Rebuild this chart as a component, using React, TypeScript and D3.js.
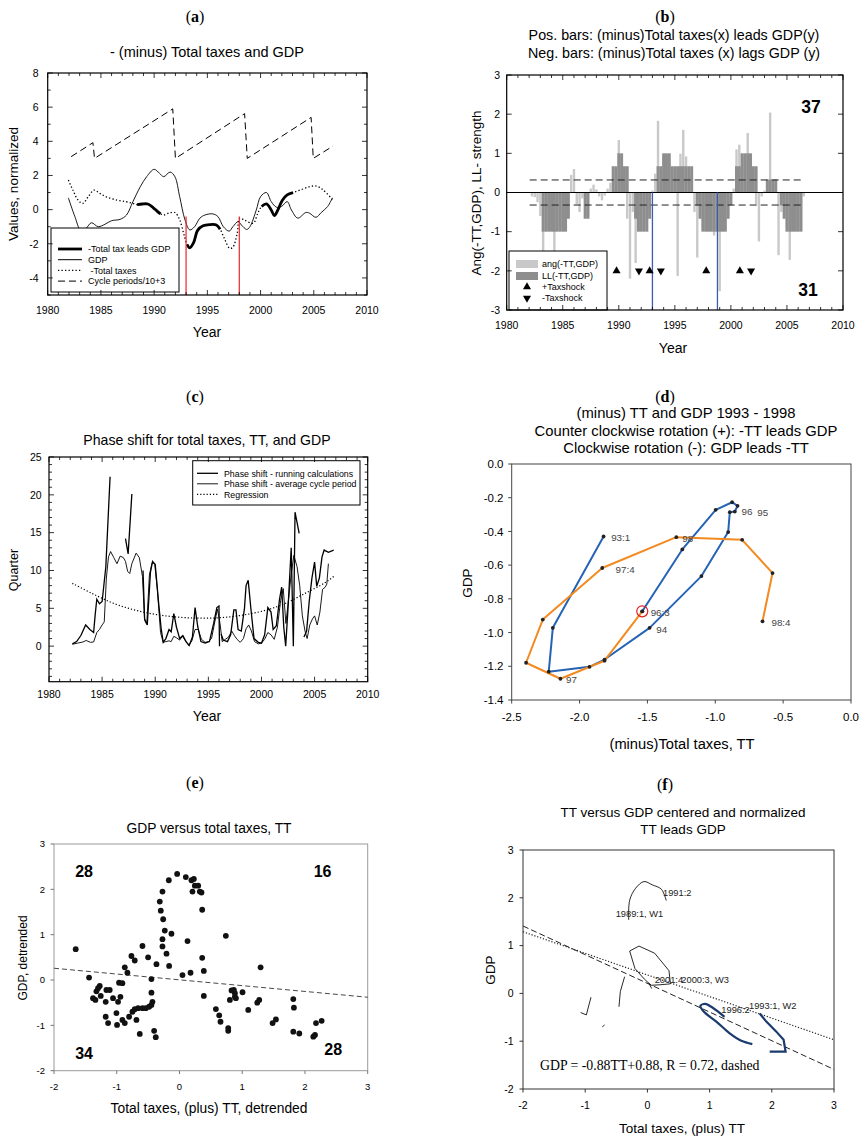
import React from 'react'
import * as d3 from 'd3'

const SANS = "'Liberation Sans', Arial, sans-serif"
const SERIF = "'Liberation Serif', 'Times New Roman', serif"
const YEAR_TICKS = [1980, 1985, 1990, 1995, 2000, 2005, 2010]

// ---------- (a) minus total taxes and GDP ----------
const aGdpYears = [1981.94, 1982.56, 1983.1, 1983.6, 1984.1, 1984.75, 1985.4, 1986.0, 1986.8, 1987.4, 1988.0, 1988.7, 1989.3, 1990.0, 1990.5, 1990.9, 1991.5, 1991.95, 1992.4, 1992.9, 1993.35, 1993.8, 1994.3, 1994.8, 1995.5, 1996.0, 1996.5, 1997.05, 1997.4, 1997.9, 1998.2, 1998.7, 1999.0, 1999.6, 2000.0, 2000.55, 2001.0, 2001.5, 2001.96, 2002.5, 2002.9, 2003.5, 2004.25, 2004.6, 2005.2, 2005.7, 2006.3, 2006.75]
const aGdpValues = [0.69, -0.42, -1.2, -1.1, -0.77, -1.0, -0.85, -0.65, -0.57, -0.32, 0.46, 1.34, 1.93, 2.36, 2.13, 1.93, 2.2, 1.93, 0.76, -0.6, -1.19, -1.0, -0.5, -0.31, -0.25, -0.41, -1.0, -1.26, -1.0, -0.7, -0.9, -1.16, -1.0, -0.02, 0.76, 1.0, 0.47, 0.14, 0.18, 0.47, -0.02, -0.5, -0.17, -0.21, -0.45, -0.17, 0.18, 0.69]
const aTaxYears = [1981.94, 1982.4, 1982.8, 1983.3, 1983.8, 1984.35, 1984.9, 1985.5, 1986.5, 1987.4, 1988.0, 1988.4, 1988.9, 1989.4, 1989.9, 1990.3, 1990.6, 1990.9, 1991.4, 1991.95, 1992.4, 1992.8, 1993.1, 1993.35, 1993.7, 1994.1, 1994.6, 1995.2, 1995.85, 1996.2, 1996.6, 1997.1, 1997.4, 1997.8, 1998.05, 1998.5, 1999.3, 1999.75, 2000.1, 2000.55, 2001.0, 2001.3, 2001.6, 2002.05, 2002.5, 2003.05, 2003.7, 2004.6, 2005.25, 2005.9, 2006.75]
const aTaxValues = [1.73, 1.1, 0.6, 0.36, 0.75, 1.14, 0.95, 0.75, 0.56, 0.46, 0.36, 0.29, 0.33, 0.33, 0.12, -0.1, -0.25, -0.32, -0.2, -0.17, -0.6, -1.45, -2.05, -2.24, -1.95, -1.2, -0.95, -0.88, -0.9, -1.15, -1.69, -2.27, -2.2, -1.4, -0.5, -0.62, -0.8, -0.2, 0.18, 0.33, -0.02, -0.35, -0.05, 0.55, 0.86, 1.0, 1.14, 1.34, 1.38, 1.14, 0.6]
const aCycleYears = [1982.2, 1984.25, 1984.4, 1991.75, 1992.0, 1998.5, 1998.75, 2004.75, 2004.95, 2006.8]
const aCycleValues = [3.1, 3.92, 3.0, 5.9, 3.0, 5.62, 3.0, 5.4, 3.0, 3.72]
const aLeadPeriods = [[1988.3, 1990.7], [1993.0, 1996.3], [1999.95, 2003.1]]
const aRedYears = [1993.0, 1998.0]
const aRedTop = -0.4

// ---------- (b) lead/lag bars ----------
const bFirstQuarter = 1982.25
const bAng = [-0.1, -0.12, -0.25, -0.6, -1.5, -0.9, -0.95, -0.9, -1.5, -0.9, -0.95, -0.9, -0.9, -0.6, 0.45, 0.6, -0.3, -0.5, -0.15, -0.6, -0.6, 0.1, 0.2, 0.08, -0.1, -0.2, -0.08, 0.1, 0.25, 0.5, 0.6, 1.34, 0.9, 0.6, -0.67, -2.2, -0.5, -1.8, -0.9, -0.95, -0.9, -0.9, -0.6, 0.05, 0.48, 1.83, 0.6, 0.9, 0.95, 0.9, 0.6, 0.6, -2.13, 0.99, 1.6, 0.92, 0.6, 0.5, -0.5, -1.66, -0.6, -0.9, -0.95, -0.9, -0.95, -1.1, -0.9, -2.52, -0.9, -0.95, -0.6, -0.3, 0.1, 1.1, 1.22, 0.95, 0.9, 1.52, 0.95, 0.6, -0.3, -1.25, -0.1, 0.05, 0.28, 2.04, 0.3, 0.2, -1.6, -0.5, -0.6, -0.9, -1.72, -0.9, -0.95, -0.9, -0.95, -0.1]
const bLL = [0, 0, 0, 0, -1, -1, -1, -1, -1, -1, -1, -1, -1, -0.67, 0, 0, 0, 0, 0, -0.67, -0.67, 0, 0, 0, 0, 0, 0, 0, 0, 0.67, 0.67, 1, 1, 0.67, 0.67, 0, 0, -0.67, -1, -1, -1, -1, -0.67, 0, 0, 0.67, 0.67, 1, 1, 1, 0.67, 0.67, 0.67, 0.67, 0.67, 0.67, 0.67, 0.67, 0, -0.33, -0.67, -1, -1, -1, -1, -1, -1, -1, -1, -1, -0.67, -0.33, 0, 0.67, 0.67, 1, 1, 1, 1, 0.67, 0.67, 0, 0, 0, 0.33, 0.33, 0.33, 0.33, 0, -0.33, -0.67, -1, -1, -1, -1, -1, -1, 0]
const bUpShocks = [1989.8, 1992.75, 1997.8, 2000.8]
const bDownShocks = [1991.8, 1993.75, 2001.8]
const bBlueYears = [1993.0, 1998.8]
const bThreshold = 0.32
const bThresholdSpan = [1982.05, 2006.35]

// ---------- (c) phase shift ----------
const cRunYears = [1982.2, 1982.6, 1983.0, 1983.45, 1983.85, 1984.2, 1984.35, 1984.5, 1984.75, 1985.0, 1985.35, 1985.75, 1985.9, 1987.2, 1987.45, 1987.8, 1988.3, 1988.85, 1989.0, 1989.25, 1989.55, 1989.75, 1990.0, 1990.3, 1990.55, 1990.75, 1991.0, 1991.3, 1991.5, 1991.75, 1992.0, 1992.3, 1992.6, 1992.9, 1993.2, 1993.5, 1993.75, 1994.0, 1994.3, 1994.7, 1995.1, 1995.5, 1995.8, 1996.0, 1996.05, 1996.1, 1996.2, 1996.4, 1996.8, 1997.1, 1997.4, 1997.6, 1997.8, 1998.1, 1998.4, 1998.55, 1998.75, 1999.0, 1999.3, 1999.7, 2000.0, 2000.3, 2000.6, 2000.9, 2001.1, 2001.4, 2001.7, 2001.9, 2002.1, 2002.28, 2002.5, 2002.8, 2003.0, 2003.16, 2003.55, 2003.8, 2004.0, 2004.25, 2004.5, 2004.75, 2005.0, 2005.2, 2005.45, 2005.7, 2005.9, 2006.3, 2006.8]
const cRunValues = [0.3, 0.6, 1.4, 2.8, 2.2, 1.8, 4.2, 6.2, 5.6, 5.9, 10.5, 22.4, null, 14.2, 12.2, 20.1, null, 10.0, 3.6, 2.8, 9.8, 11.2, 10.8, 6.0, 2.4, 0.5, 1.0, 2.2, 1.9, 4.3, 2.5, 1.0, 1.4, 0.6, 0.1, 1.2, 5.1, 2.6, 0.6, 0.4, 0.6, 3.0, 5.1, 5.3, 0.0, null, 1.6, 0.8, 0.6, 1.5, 4.8, 4.8, 2.2, 2.0, 5.0, 8.0, 8.7, 5.0, 1.0, 0.5, 0.4, 1.5, 5.1, 4.5, 2.2, 2.7, 6.2, 7.8, 2.5, 0.0, 5.0, 13.0, 0.0, 17.7, 14.9, null, 1.2, 2.0, 6.0, 9.0, 11.1, 7.9, 9.0, 11.8, 12.7, 12.4, 12.7]
const cAvgYears = [1982.2, 1982.7, 1983.2, 1983.5, 1983.9, 1984.2, 1984.5, 1984.75, 1985.0, 1985.2, 1985.4, 1985.6, 1985.8, 1986.1, 1986.4, 1986.7, 1987.0, 1987.2, 1987.4, 1987.6, 1987.8, 1988.2, 1988.5, 1988.8, 1989.0, 1989.2, 1989.45, 1989.7, 1989.95, 1990.2, 1990.5, 1990.75, 1991.0, 1991.3, 1991.5, 1991.75, 1992.0, 1992.3, 1992.55, 1992.85, 1993.15, 1993.45, 1993.75, 1994.05, 1994.35, 1994.7, 1995.0, 1995.3, 1995.55, 1995.85, 1996.1, 1996.3, 1996.6, 1996.9, 1997.2, 1997.45, 1997.7, 1998.0, 1998.3, 1998.55, 1998.8, 1999.05, 1999.35, 1999.7, 2000.0, 2000.3, 2000.6, 2000.9, 2001.2, 2001.5, 2001.8, 2002.05, 2002.3, 2002.55, 2002.8, 2003.05, 2003.35, 2003.6, 2003.85, 2004.1, 2004.3, 2004.55, 2004.8, 2005.0, 2005.25, 2005.5, 2005.75, 2006.0, 2006.15, 2006.3]
const cAvgValues = [0.25, 0.4, 0.55, 0.75, 0.5, 0.55, 1.8, 2.2, 2.8, 3.2, 9.0, 11.8, 12.5, 11.7, 10.9, 11.9, 11.7, 11.2, 9.9, 9.6, 10.9, 12.3, 11.7, 9.2, 3.4, 2.9, 9.4, 11.0, 10.9, 7.5, 1.8, 0.5, 0.6, 0.7, 0.6, 1.3, 1.1, 0.8, 1.3, 0.7, 0.1, 0.7, 2.2, 2.2, 0.9, 0.5, 0.6, 1.0, 2.8, 4.9, 3.0, 0.6, 0.9, 1.2, 2.0, 1.4, 0.9, 0.5, 1.0, 2.3, 2.8, 2.0, 0.6, 0.3, 0.4, 0.9, 1.8, 1.5, 0.9, 2.5, 6.0, 7.6, 3.0, 6.2, 9.5, 12.0, 10.5, 8.0, 4.0, 2.0, 1.0, 2.8, 3.6, 4.0, 2.8, 4.5, 7.5, 7.8, 8.2, 10.9]
const cRegYears = [1982.2, 1984, 1986, 1988, 1990, 1992, 1994, 1996, 1998, 2000, 2002, 2004, 2006, 2006.8]
const cRegValues = [8.3, 7.0, 5.7, 4.8, 4.2, 3.85, 3.7, 3.75, 4.05, 4.6, 5.5, 6.9, 8.4, 9.2]

// ---------- (d) phase plot 1993-1998 ----------
const dBlueX = [-1.823, -2.197, -2.227, -1.927, -1.816, -1.484, -1.102, -0.905, -0.893, -0.856, -0.836, -0.876, -0.997, -1.243, -1.538]
const dBlueY = [-0.43, -0.972, -1.232, -1.203, -1.16, -0.972, -0.665, -0.404, -0.286, -0.282, -0.248, -0.227, -0.272, -0.507, -0.874]
const dOrangeX = [-1.538, -1.816, -2.141, -2.394, -2.271, -1.833, -1.287, -0.802, -0.578, -0.652]
const dOrangeY = [-0.874, -1.167, -1.274, -1.179, -0.923, -0.617, -0.434, -0.45, -0.647, -0.933]
const dLabelText = ['93:1', '94', '96:3', '97', '97:4', '98', '98:4', '96', '95']
const dLabelX = [-1.767, -1.435, -1.476, -2.099, -1.735, -1.243, -0.586, -0.807, -0.691]
const dLabelY = [-0.438, -0.98, -0.881, -1.278, -0.625, -0.444, -0.941, -0.282, -0.286]
const dMarked = [-1.538, -0.874]

// ---------- (e) scatter ----------
const eX = [-1.654, -1.441, -1.378, -1.34, -1.324, -1.298, -1.271, -1.255, -1.176, -1.165, -1.112, -1.176, -1.138, -1.059, -1.005, -0.995, -0.979, -0.963, -0.91, -0.941, -0.91, -0.872, -0.872, -0.83, -0.766, -0.713, -0.803, -0.75, -0.713, -0.686, -0.66, -0.633, -0.59, -0.59, -0.537, -0.5, -0.484, -0.447, -0.447, -0.447, -0.431, -0.404, -0.378, -0.367, -0.314, -0.298, -0.271, -0.26, -0.271, -0.271, -0.234, -0.207, -0.165, -0.17, -0.128, -0.037, 0.048, 0.101, 0.128, 0.176, 0.191, 0.207, 0.229, 0.245, 0.298, 0.324, 0.351, 0.362, 0.362, 0.388, 0.388, 0.58, 0.633, 0.654, 0.739, 0.777, 0.777, 0.803, 0.83, 0.867, 0.883, 0.899, 0.883, 1.005, 1.096, 1.239, 1.271, 1.293, 1.484, 1.537, 1.814, 1.824, 1.814, 1.91, 2.133, 2.176, 2.266, 2.16]
const eY = [0.68, 0.055, -0.4, -0.44, -0.25, -0.18, -0.13, -0.35, -0.48, -0.22, -0.22, -0.81, -0.95, -0.4, -0.73, -0.99, -0.48, -0.06, -0.07, -0.37, -0.88, -0.95, 0.28, 0.16, 0.53, 0.43, -0.81, -0.7, -0.645, -0.88, -0.62, -1.19, 0.75, -0.62, -0.62, 0.5, -0.59, -0.55, 0.02, -0.28, -0.48, -1.12, -1.26, 0.35, 1.73, 1.53, 1.95, 1.34, 0.9, 0.74, 1.09, 0.58, 0.31, 2.2, 1.02, 2.34, 0.11, 2.27, 0.86, 0.16, 2.2, 1.95, 2.23, 2.08, 2.08, 1.95, 1.93, 1.55, 0.49, 0.2, -0.35, -0.64, -0.78, -0.92, 0.975, -1.06, -1.12, -0.44, -0.23, -0.22, -0.37, -0.4, -0.29, -0.27, -0.66, -0.5, -0.44, 0.28, -0.95, -0.87, -0.42, -0.61, -1.14, -1.18, -1.25, -0.95, -0.9, -1.21]
const eFitX = [-2, 3]
const eFitY = [0.26, -0.38]
const eQuadrantCounts = ['28', '16', '34', '28']
const eQuadrantX = [-1.52, 2.28, -1.52, 2.45]
const eQuadrantY = [2.4, 2.4, -1.6, -1.52]

// ---------- (f) centred and normalized ----------
const fW1X = [-0.301, -0.285, -0.189, -0.055, 0.079, 0.224, 0.304]
const fW1Y = [1.536, 1.95, 2.2, 2.34, 2.27, 2.18, 1.94]
const fW3X = [-0.285, -0.135, 0.117, 0.347, 0.37, 0.2, 0.06, -0.05, -0.2, -0.285]
const fW3Y = [0.887, 0.99, 0.84, 0.476, 0.2, 0.18, 0.17, 0.3, 0.52, 0.887]
const fBitsX = [[-0.366, -0.435, -0.457], [-0.907, -0.982, -1.073], [-0.725, -0.687], [0.02, 0.07]]
const fBitsY = [[0.35, 0.04, -0.28], [-0.08, -0.45, -0.4], [-0.7, -0.66], [0.22, 0.1]]
const fNavy1X = [1.687, 1.51, 1.323, 1.108, 0.905, 0.851, 0.93, 1.05, 1.24]
const fNavy1Y = [-1.06, -0.99, -0.835, -0.59, -0.38, -0.26, -0.22, -0.3, -0.49]
const fNavy2X = [1.805, 1.912, 2.073, 2.19, 2.222, 1.966]
const fNavy2Y = [-0.42, -0.59, -0.8, -0.97, -1.22, -1.22]
const fDashX = [-2, 3]
const fDashY = [1.41, -1.59]
const fDotX = [-2, 3]
const fDotY = [1.29, -0.97]
const fLabelText = ['1991:2', '1989:1, W1', '2001:4', '2000:3, W3', '1996:2', '1993:1, W2']
const fLabelX = [0.251, -0.51, 0.117, 0.546, 1.189, 1.633]
const fLabelY = [2.107, 1.675, 0.294, 0.28, -0.347, -0.264]

type Scale = d3.ScaleLinear<number, number>

function path(xs: number[], ys: (number | null)[], xS: Scale, yS: Scale, curve: any = d3.curveLinear) {
  const idx = d3.range(Math.min(xs.length, ys.length))
  return d3.line<number>()
    .defined(i => ys[i] !== null)
    .x(i => xS(xs[i]))
    .y(i => yS(ys[i] as number))
    .curve(curve)(idx) || ''
}

// SigmaPlot style frame, ticks pointing inwards on all four sides
function InsideFrame({ xS, yS, xMajor, xMinor, yMajor, yMinor }: any) {
  const [x0, x1] = xS.range()
  const [y1, y0] = yS.range()
  const out: any[] = []
  xMinor.forEach((v: number, i: number) => {
    const L = xMajor.includes(v) ? 5 : 3
    out.push(<line key={'xb' + i} x1={xS(v)} x2={xS(v)} y1={y1} y2={y1 - L} stroke="#000" />)
    out.push(<line key={'xt' + i} x1={xS(v)} x2={xS(v)} y1={y0} y2={y0 + L} stroke="#000" />)
  })
  yMinor.forEach((v: number, i: number) => {
    const L = yMajor.includes(v) ? 5 : 3
    out.push(<line key={'yl' + i} x1={x0} x2={x0 + L} y1={yS(v)} y2={yS(v)} stroke="#000" />)
    out.push(<line key={'yr' + i} x1={x1} x2={x1 - L} y1={yS(v)} y2={yS(v)} stroke="#000" />)
  })
  return (
    <g strokeWidth={0.8}>
      {out}
      <rect x={x0} y={y0} width={x1 - x0} height={y1 - y0} fill="none" stroke="#000" strokeWidth={1.2} />
    </g>
  )
}

function XLabels({ xS, ticks, y, size = 10.5, fmt = (v: number) => String(v) }: any) {
  return <g>{ticks.map((t: number) => <text key={t} x={xS(t)} y={y} textAnchor="middle" fontSize={size} fontFamily={SANS}>{fmt(t)}</text>)}</g>
}
function YLabels({ yS, ticks, x, size = 10.5, fmt = (v: number) => String(v) }: any) {
  return <g>{ticks.map((t: number) => <text key={t} x={x} y={yS(t) + size * 0.36} textAnchor="end" fontSize={size} fontFamily={SANS}>{fmt(t)}</text>)}</g>
}
function PanelTag({ x, y, letter }: any) {
  return <text x={x} y={y} textAnchor="middle" fontFamily={SERIF} fontSize={16}>(<tspan fontWeight="bold">{letter}</tspan>)</text>
}
function RotLabel({ x, y, text, size }: any) {
  return <text transform={`translate(${x},${y}) rotate(-90)`} textAnchor="middle" fontSize={size} fontFamily={SANS}>{text}</text>
}

function PanelA() {
  const xS = d3.scaleLinear().domain([1980, 2010]).range([47.7, 367])
  const yS = d3.scaleLinear().domain([-5, 8]).range([295, 73])
  const smooth = d3.curveCatmullRom.alpha(0.5)
  const leadPaths = aLeadPeriods.map(([s, e]) => {
    const idx = aTaxYears.map((y, i) => i).filter(i => aTaxYears[i] >= s && aTaxYears[i] <= e)
    return path(idx.map(i => aTaxYears[i]), idx.map(i => aTaxValues[i]), xS, yS, smooth)
  })
  const legendItems = [
    { t: '-Total tax leads GDP', w: 2.8, dash: '' },
    { t: 'GDP', w: 1, dash: '' },
    { t: ' -Total taxes', w: 1.3, dash: '1.3,2.2' },
    { t: 'Cycle periods/10+3', w: 1, dash: '7,4' },
  ]
  return (
    <g>
      <PanelTag x={195} y={22} letter="a" />
      <text x={207} y={57} textAnchor="middle" fontSize={14.5} fontFamily={SANS}>- (minus) Total taxes and GDP</text>
      <path d={path(aCycleYears, aCycleValues, xS, yS)} fill="none" stroke="#000" strokeWidth={1} strokeDasharray="7,4" />
      <path d={path(aTaxYears, aTaxValues, xS, yS, smooth)} fill="none" stroke="#000" strokeWidth={1.3} strokeDasharray="1.3,2.2" />
      <path d={path(aGdpYears, aGdpValues, xS, yS, smooth)} fill="none" stroke="#000" strokeWidth={0.9} />
      {leadPaths.map((d, i) => <path key={i} d={d} fill="none" stroke="#000" strokeWidth={2.8} />)}
      {aRedYears.map(y => <line key={y} x1={xS(y)} x2={xS(y)} y1={yS(-5)} y2={yS(aRedTop)} stroke="#e8262a" strokeWidth={1.2} />)}
      <rect x={51} y={228} width={128} height={64} fill="#fff" stroke="#000" strokeWidth={1} />
      {legendItems.map((it, i) => {
        const y = 249 + i * 10.7
        return (
          <g key={i}>
            <line x1={58} x2={82} y1={y} y2={y} stroke="#000" strokeWidth={it.w} strokeDasharray={it.dash} />
            <text x={88} y={y + 3.3} fontSize={9} fontFamily={SANS} style={{ whiteSpace: 'pre' }}>{it.t}</text>
          </g>
        )
      })}
      <InsideFrame xS={xS} yS={yS} xMajor={YEAR_TICKS} xMinor={d3.range(1980, 2011)} yMajor={d3.range(-4, 9, 2)} yMinor={d3.range(-5, 9)} />
      <XLabels xS={xS} ticks={YEAR_TICKS} y={314} />
      <YLabels yS={yS} ticks={d3.range(-4, 9, 2)} x={38.5} />
      <text x={207} y={337} textAnchor="middle" fontSize={14} fontFamily={SANS}>Year</text>
      <RotLabel x={18} y={184} text="Values, normalized" size={13.5} />
    </g>
  )
}

function PanelB() {
  const xS = d3.scaleLinear().domain([1980, 2010]).range([506.7, 843])
  const yS = d3.scaleLinear().domain([-3, 3]).range([310, 75])
  const qw = xS(0.25) - xS(0)
  const qx = (i: number) => xS(bFirstQuarter + i * 0.25)
  const tri = d3.symbol().type(d3.symbolTriangle).size(28)()
  return (
    <g>
      <PanelTag x={665} y={22} letter="b" />
      <text x={674} y={40} textAnchor="middle" fontSize={14.3} fontFamily={SANS}>Pos. bars: (minus)Total taxes(x) leads GDP(y)</text>
      <text x={674} y={58} textAnchor="middle" fontSize={14.3} fontFamily={SANS}>Neg. bars: (minus)Total taxes (x) lags GDP (y)</text>
      {bAng.map((v, i) => (
        <rect key={'a' + i} x={qx(i) - 1.2} width={2.4} y={Math.min(yS(v), yS(0))} height={Math.abs(yS(v) - yS(0))} fill="#c9c9c9" />
      ))}
      {bLL.map((v, i) => v === 0 ? null : (
        <rect key={'l' + i} x={qx(i) - qw / 2 - 0.1} width={qw + 0.2} y={Math.min(yS(v), yS(0))} height={Math.abs(yS(v) - yS(0))} fill="#8e8e8e" />
      ))}
      {[bThreshold, -bThreshold].map(t => (
        <line key={t} x1={xS(bThresholdSpan[0])} x2={xS(bThresholdSpan[1])} y1={yS(t)} y2={yS(t)} stroke="#222" strokeWidth={1} strokeDasharray="7,4" />
      ))}
      <line x1={xS(1980)} x2={xS(2010)} y1={yS(0)} y2={yS(0)} stroke="#000" strokeWidth={1.2} />
      {bBlueYears.map(y => <line key={y} x1={xS(y)} x2={xS(y)} y1={yS(0)} y2={yS(-3)} stroke="#3b5cb0" strokeWidth={1.3} />)}
      {bUpShocks.map(y => <path key={'u' + y} d={tri!} transform={`translate(${xS(y)},${yS(-2)})`} fill="#000" />)}
      {bDownShocks.map(y => <path key={'d' + y} d={tri!} transform={`translate(${xS(y)},${yS(-2)}) rotate(180)`} fill="#000" />)}
      <rect x={509} y={251} width={98} height={59} fill="#fff" stroke="#000" strokeWidth={1} />
      <rect x={516} y={260} width={22} height={8} fill="#c9c9c9" />
      <rect x={516} y={272} width={22} height={8} fill="#8e8e8e" />
      <path d={tri!} transform="translate(527,287)" fill="#000" />
      <path d={tri!} transform="translate(527,298) rotate(180)" fill="#000" />
      {['ang(-TT,GDP)', 'LL(-TT,GDP)', '+Taxshock', '-Taxshock'].map((t, i) => (
        <text key={t} x={542} y={[267.3, 279.3, 290.3, 301.3][i]} fontSize={9} fontFamily={SANS}>{t}</text>
      ))}
      <text x={811} y={113} textAnchor="middle" fontSize={17.5} fontWeight="bold" fontFamily={SANS}>37</text>
      <text x={808} y={296} textAnchor="middle" fontSize={17.5} fontWeight="bold" fontFamily={SANS}>31</text>
      <InsideFrame xS={xS} yS={yS} xMajor={YEAR_TICKS} xMinor={d3.range(1980, 2011)} yMajor={d3.range(-3, 4)} yMinor={d3.range(-3, 4)} />
      <XLabels xS={xS} ticks={YEAR_TICKS} y={329} />
      <YLabels yS={yS} ticks={d3.range(-3, 4)} x={500} />
      <text x={673} y={353} textAnchor="middle" fontSize={14} fontFamily={SANS}>Year</text>
      <RotLabel x={481} y={193} text="Ang(-TT,GDP), LL- strength" size={13.5} />
    </g>
  )
}

function PanelC() {
  const xS = d3.scaleLinear().domain([1980, 2010]).range([49, 367.7])
  const yS = d3.scaleLinear().domain([-4.7, 25]).range([681.7, 457])
  return (
    <g>
      <PanelTag x={195} y={402} letter="c" />
      <text x={207} y={444.5} textAnchor="middle" fontSize={14.1} fontFamily={SANS}>Phase shift for total taxes, TT, and GDP</text>
      <path d={path(cRegYears, cRegValues, xS, yS, d3.curveCatmullRom)} fill="none" stroke="#000" strokeWidth={1.2} strokeDasharray="1.2,2" />
      <path d={path(cAvgYears, cAvgValues, xS, yS)} fill="none" stroke="#000" strokeWidth={0.9} />
      <path d={path(cRunYears, cRunValues, xS, yS)} fill="none" stroke="#000" strokeWidth={1.3} />
      <rect x={192.7} y={460.7} width={167.3} height={44.3} fill="#fff" stroke="#000" strokeWidth={1} />
      {[
        { t: 'Phase shift - running calculations', w: 1.3, dash: '' },
        { t: 'Phase shift - average cycle period', w: 0.9, dash: '' },
        { t: 'Regression', w: 1.2, dash: '1.2,2' },
      ].map((it, i) => {
        const y = 473.3 + i * 10.5
        return (
          <g key={i}>
            <line x1={197} x2={218} y1={y} y2={y} stroke="#000" strokeWidth={it.w} strokeDasharray={it.dash} />
            <text x={224} y={y + 3.2} fontSize={8.8} fontFamily={SANS}>{it.t}</text>
          </g>
        )
      })}
      <InsideFrame xS={xS} yS={yS} xMajor={YEAR_TICKS} xMinor={d3.range(1980, 2011)} yMajor={d3.range(0, 26, 5)} yMinor={d3.range(-4, 26)} />
      <XLabels xS={xS} ticks={YEAR_TICKS} y={698} />
      <YLabels yS={yS} ticks={d3.range(0, 26, 5)} x={41.7} />
      <text x={207} y={721} textAnchor="middle" fontSize={14} fontFamily={SANS}>Year</text>
      <RotLabel x={18} y={570} text="Quarter" size={12.5} />
    </g>
  )
}

function PanelD() {
  const xS = d3.scaleLinear().domain([-2.5, 0]).range([511.7, 851])
  const yS = d3.scaleLinear().domain([-1.4, 0]).range([700, 464])
  const xt = d3.range(-2.5, 0.01, 0.5)
  const yt = d3.range(-1.4, 0.01, 0.2)
  const fmt = (v: number) => (Math.abs(v) < 1e-9 ? 0 : v).toFixed(1)
  const pts = (xs: number[], ys: number[]) => xs.map((x, i) => <circle key={i} cx={xS(x)} cy={yS(ys[i])} r={1.9} fill="#222" />)
  return (
    <g>
      <PanelTag x={665} y={402} letter="d" />
      {['(minus) TT and GDP 1993 - 1998', 'Counter clockwise rotation (+): -TT leads GDP', 'Clockwise rotation (-): GDP leads -TT'].map((t, i) => (
        <text key={i} x={686} y={418 + i * 17.5} textAnchor="middle" fontSize={14.8} fontFamily={SANS}>{t}</text>
      ))}
      <rect x={511.7} y={464} width={339.3} height={236} fill="none" stroke="#444" strokeWidth={1} />
      {xt.map(v => <line key={'x' + v} x1={xS(v)} x2={xS(v)} y1={700} y2={703.5} stroke="#444" />)}
      {yt.map(v => <line key={'y' + v} x1={511.7} x2={508.2} y1={yS(v)} y2={yS(v)} stroke="#444" />)}
      <path d={path(dBlueX, dBlueY, xS, yS)} fill="none" stroke="#2563b5" strokeWidth={2} strokeLinejoin="round" />
      <path d={path(dOrangeX, dOrangeY, xS, yS)} fill="none" stroke="#f28a20" strokeWidth={2} strokeLinejoin="round" />
      {pts(dBlueX, dBlueY)}
      {pts(dOrangeX, dOrangeY)}
      <circle cx={xS(dMarked[0])} cy={yS(dMarked[1])} r={5.5} fill="none" stroke="#e02020" strokeWidth={1.2} />
      {dLabelText.map((t, i) => (
        <text key={t} x={xS(dLabelX[i])} y={yS(dLabelY[i]) + 3.5} fontSize={9.8} fill="#444" fontFamily={SANS}>{t}</text>
      ))}
      <XLabels xS={xS} ticks={xt} y={721} size={11.5} fmt={fmt} />
      <YLabels yS={yS} ticks={yt} x={503.5} size={11.5} fmt={fmt} />
      <text x={682} y={749} textAnchor="middle" fontSize={14.7} fontFamily={SANS}>(minus)Total taxes, TT</text>
      <RotLabel x={472} y={583} text="GDP" size={13.5} />
    </g>
  )
}

function PanelE() {
  const xS = d3.scaleLinear().domain([-2, 3]).range([54, 367.7])
  const yS = d3.scaleLinear().domain([-2, 3]).range([1070.7, 844])
  const t = d3.range(-2, 4)
  return (
    <g>
      <PanelTag x={195} y={788} letter="e" />
      <text x={209} y={833} textAnchor="middle" fontSize={13.8} fontFamily={SANS}>GDP versus total taxes, TT</text>
      <rect x={54} y={844} width={313.7} height={226.7} fill="none" stroke="#999" strokeWidth={1} />
      {t.map(v => <line key={'x' + v} x1={xS(v)} x2={xS(v)} y1={1070.7} y2={1074} stroke="#777" />)}
      {t.map(v => <line key={'y' + v} x1={54} x2={50.5} y1={yS(v)} y2={yS(v)} stroke="#777" />)}
      <path d={path(eFitX, eFitY, xS, yS)} fill="none" stroke="#333" strokeWidth={0.9} strokeDasharray="5,3" />
      {eX.map((x, i) => <circle key={i} cx={xS(x)} cy={yS(eY[i])} r={2.9} fill="#111" />)}
      {eQuadrantCounts.map((c, i) => (
        <text key={i} x={xS(eQuadrantX[i])} y={yS(eQuadrantY[i]) + 6} textAnchor="middle" fontSize={16} fontWeight="bold" fontFamily={SANS}>{c}</text>
      ))}
      <XLabels xS={xS} ticks={t} y={1090} size={9.5} />
      <YLabels yS={yS} ticks={t} x={45} size={9.5} />
      <text x={209} y={1112.5} textAnchor="middle" fontSize={13.8} fontFamily={SANS}>Total taxes, (plus) TT, detrended</text>
      <RotLabel x={27} y={958} text="GDP, detrended" size={12} />
    </g>
  )
}

function PanelF() {
  const xS = d3.scaleLinear().domain([-2, 3]).range([523, 834])
  const yS = d3.scaleLinear().domain([-2, 3]).range([1089, 850])
  const t = d3.range(-2, 4)
  const smooth = d3.curveCatmullRom.alpha(0.5)
  return (
    <g>
      <PanelTag x={665} y={790} letter="f" />
      <text x={683} y={816.5} textAnchor="middle" fontSize={13.5} fontFamily={SANS}>TT versus GDP centered and normalized</text>
      <text x={683} y={834} textAnchor="middle" fontSize={13.5} fontFamily={SANS}>TT leads GDP</text>
      <rect x={523} y={850} width={311} height={239} fill="none" stroke="#333" strokeWidth={1} />
      {t.map(v => <line key={'x' + v} x1={xS(v)} x2={xS(v)} y1={1089} y2={1092.5} stroke="#333" />)}
      {t.map(v => <line key={'y' + v} x1={523} x2={519.5} y1={yS(v)} y2={yS(v)} stroke="#333" />)}
      <path d={path(fDashX, fDashY, xS, yS)} fill="none" stroke="#222" strokeWidth={1} strokeDasharray="6,3" />
      <path d={path(fDotX, fDotY, xS, yS)} fill="none" stroke="#222" strokeWidth={1.2} strokeDasharray="1.2,1.8" />
      <path d={path(fW1X, fW1Y, xS, yS, smooth)} fill="none" stroke="#111" strokeWidth={0.9} />
      <path d={path(fW3X, fW3Y, xS, yS)} fill="none" stroke="#111" strokeWidth={0.9} />
      {fBitsX.map((xs, i) => <path key={i} d={path(xs, fBitsY[i], xS, yS)} fill="none" stroke="#111" strokeWidth={0.9} />)}
      <path d={path(fNavy1X, fNavy1Y, xS, yS, smooth)} fill="none" stroke="#1b3a6e" strokeWidth={2.2} />
      <path d={path(fNavy2X, fNavy2Y, xS, yS)} fill="none" stroke="#1b3a6e" strokeWidth={2.2} />
      {fLabelText.map((s, i) => (
        <text key={s} x={xS(fLabelX[i])} y={yS(fLabelY[i]) + 3.3} fontSize={9.3} fill="#222" fontFamily={SANS}>{s}</text>
      ))}
      <text x={540} y={1069.5} fontSize={13.8} fontFamily={SERIF}>GDP = -0.88TT+0.88, R = 0.72, dashed</text>
      <XLabels xS={xS} ticks={t} y={1109} size={10.5} />
      <YLabels yS={yS} ticks={t} x={513.5} size={10.5} />
      <text x={682} y={1133} textAnchor="middle" fontSize={13.5} fontFamily={SANS}>Total taxes, (plus) TT</text>
      <RotLabel x={495} y={970} text="GDP" size={13.5} />
    </g>
  )
}

export default function App() {
  return (
    <div style={{ position: 'absolute', left: 0, top: 0, width: 860, height: 1138, background: '#fff' }}>
      <svg width={860} height={1138} viewBox="0 0 860 1138">
        <rect width={860} height={1138} fill="#fff" />
        <PanelA />
        <PanelB />
        <PanelC />
        <PanelD />
        <PanelE />
        <PanelF />
      </svg>
    </div>
  )
}
